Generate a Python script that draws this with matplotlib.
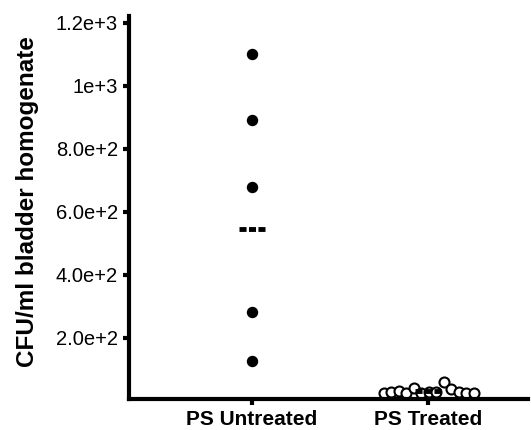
import numpy as np
import matplotlib
matplotlib.use('Agg')
import matplotlib.pyplot as plt

plt.rcParams['font.family'] = ['Liberation Sans', 'DejaVu Sans']

groups = ['PS Untreated', 'PS Treated']
untreated = [1100, 890, 680, 283, 127]
treated = [24, 26, 30, 25, 40, 24, 26, 28, 60, 38, 26, 24, 25]
group_means = [546, 30]
yticks = [200, 400, 600, 800, 1000, 1200]
yticklabels = ['2.0e+2', '4.0e+2', '6.0e+2', '8.0e+2', '1e+3', '1.2e+3']

fig = plt.figure(figsize=(5.31, 4.30), dpi=100)
ax = fig.add_axes([0.243, 0.072, 0.751, 0.891])

# untreated: filled dots in a column
ax.plot([0] * len(untreated), untreated, 'o', color='black', markersize=7.2)

# treated: open circles spread sideways
xs = np.linspace(-0.25, 0.26, len(treated)) + 1
ax.plot(xs, treated, 'o', markerfacecolor='white', markeredgecolor='black',
        markersize=7.2, markeredgewidth=1.5)

for i, m in enumerate(group_means):
    ax.plot([i - 0.074, i + 0.074], [m, m], color='black', lw=3.5,
            linestyle=(0, (1.45, 0.5)), solid_capstyle='butt',
            dash_capstyle='butt', zorder=3)

ax.set_xlim(-0.699, 1.568)
ax.set_ylim(5, 1222)
ax.set_xticks([0, 1])
ax.set_xticklabels(groups, fontsize=15, fontweight='bold')
ax.set_yticks(yticks)
ax.set_yticklabels(yticklabels, fontsize=14.5)
ax.set_ylabel('CFU/ml bladder homogenate', fontsize=17.5, fontweight='bold')
ax.yaxis.set_label_coords(-0.225, 0.516)

for s in ['top', 'right']:
    ax.spines[s].set_visible(False)
for s in ['left', 'bottom']:
    ax.spines[s].set_linewidth(3)
ax.tick_params(axis='both', length=4, width=3, direction='out', pad=4)

fig.savefig('out.png', dpi=100)
